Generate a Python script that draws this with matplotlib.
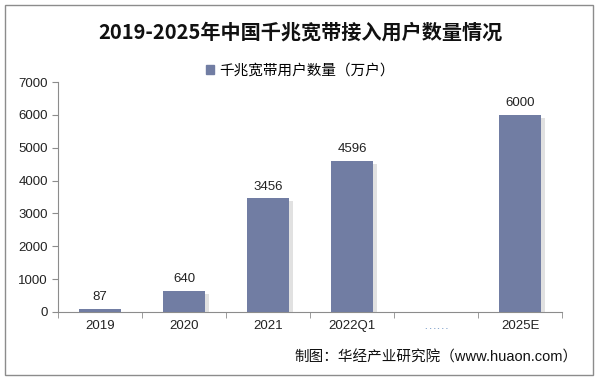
import matplotlib.pyplot as plt
import matplotlib.patheffects as pe
from matplotlib.patches import Rectangle, Patch

plt.rcParams['font.family'] = ['Liberation Sans', 'Noto Sans CJK SC', 'DejaVu Sans']

categories = ['2019', '2020', '2021', '2022Q1', '……', '2025E']
values = [87, 640, 3456, 4596, None, 6000]
bar_color = '#717da3'

fig = plt.figure(figsize=(6, 3.8), dpi=100)
ax = fig.add_axes([0.097, 0.179, 0.84, 0.605])

# border around whole figure
fig.patches.append(Rectangle((0.008, 0.013), 0.98, 0.974, transform=fig.transFigure,
                             fill=False, edgecolor='#8c8c8c', linewidth=1.0))

xs = range(len(categories))
heights = [v if v is not None else 0 for v in values]
bars = ax.bar(xs, heights, width=0.5, color=bar_color, zorder=3)
for b in bars:
    b.set_path_effects([pe.SimplePatchShadow(offset=(3, -2), shadow_rgbFace='#c4c4c4', alpha=0.5),
                        pe.Normal()])

for x, v in zip(xs, values):
    if v is None:
        continue
    ax.text(x, v + 180, str(v), ha='center', va='bottom', fontsize=9.5, color='#222222')

ax.set_xlim(-0.5, len(categories) - 0.5)
ax.set_ylim(0, 7000)
ax.set_yticks(range(0, 7001, 1000))
ax.set_xticks(xs)
ax.set_xticklabels(categories, fontsize=9.5)
ax.tick_params(axis='x', length=0, pad=6, labelcolor='#222222')
ax.set_xticks([i + 0.5 for i in range(-1, len(categories))], minor=True)
ax.tick_params(axis='x', which='minor', length=4, color='#8c8c8c')
ax.tick_params(axis='y', labelsize=9.5, length=4, color='#8c8c8c', labelcolor='#222222')
ax.xaxis.get_majorticklabels()[4].set_color('#7a9cc8')

for s in ['top', 'right']:
    ax.spines[s].set_visible(False)
ax.spines['left'].set_color('#8c8c8c')
ax.spines['bottom'].set_color('#8c8c8c')

fig.text(0.5, 0.915, '2019-2025年中国千兆宽带接入用户数量情况', ha='center', va='center',
         fontsize=14.5, fontweight='bold', color='#111111',
         family=['Noto Sans CJK SC', 'DejaVu Sans'])
fig.legend(handles=[Patch(color=bar_color, label='千兆宽带用户数量（万户）')],
           loc='center', bbox_to_anchor=(0.5, 0.815), frameon=False, fontsize=10.5,
           handlelength=0.6, handleheight=0.6, handletextpad=0.3)

fig.text(0.963, 0.06, '制图：华经产业研究院（www.huaon.com）', ha='right', va='center',
         fontsize=10.5, color='#111111')

fig.savefig('out.png', dpi=100)
